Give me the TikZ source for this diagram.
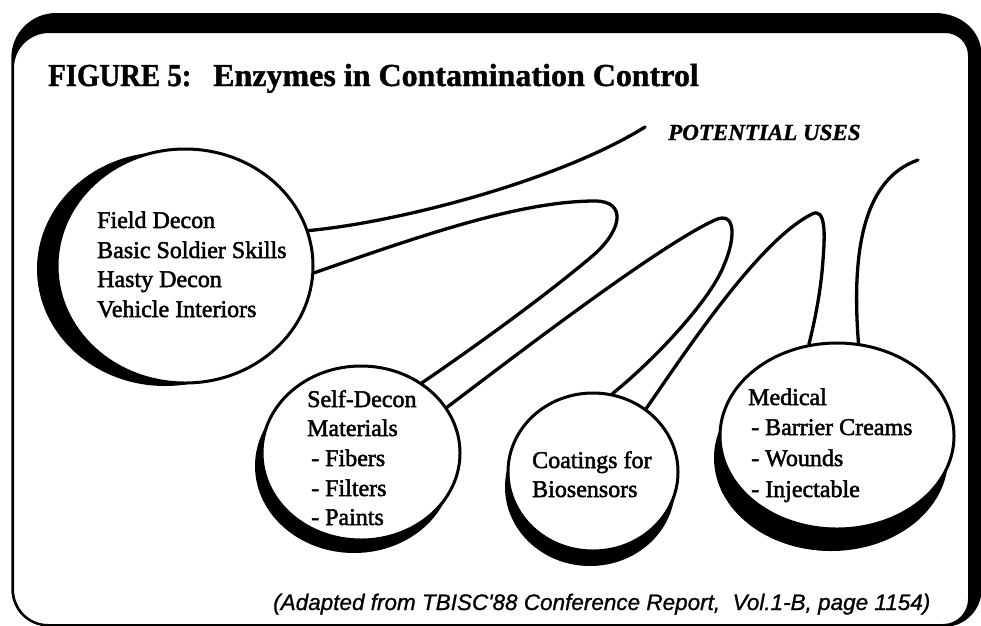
\documentclass[tikz,border=0pt]{standalone}
\usepackage{fontspec}
\setmainfont{Liberation Serif}
\newfontfamily\bodyfont[FakeBold=2]{Liberation Serif}
\newfontfamily\headfont[BoldFeatures={FakeBold=1.2},BoldItalicFeatures={FakeBold=1.2}]{Liberation Serif}
\newfontfamily\notefont[FakeBold=1]{Liberation Sans}
\usetikzlibrary{shapes.geometric,shadows}

\tikzset{
  bubble/.style={ellipse, draw, line width=3pt, fill=white, inner sep=0pt},
  string/.style={line width=3.3pt, line cap=round},
  itemtext/.style={anchor=base west, inner sep=0pt, font=\bodyfont\fontsize{24}{29}\selectfont},
  titletext/.style={anchor=base west, inner sep=0pt, font=\headfont\bfseries\fontsize{32}{38}\selectfont},
}

\begin{document}
\begin{tikzpicture}[x=1pt,y=-1pt]
\useasboundingbox (0,0) rectangle (981,625);
\clip (0,0) rectangle (981,625);
\fill[white] (0,0) rectangle (981,625);

% rounded frame: heavy top and right edges, thin left and bottom
\fill[black, even odd rule]
  (11.3,589) -- (11.3,58) .. controls (11.3,33) and (31.3,13) .. (56.3,13)
  -- (935,13) .. controls (960,13) and (981.5,30) .. (981.5,55)
  -- (981.5,590) .. controls (981.5,609.3) and (965.3,626.5) .. (946,626.5)
  -- (48.3,626.5) .. controls (27.6,626.5) and (11.3,609.7) .. (11.3,589) -- cycle
  (14,589) -- (14,68) .. controls (14,48.7) and (29.7,33) .. (49,33)
  -- (945,33) .. controls (958,33) and (968,43) .. (968,56)
  -- (968,599) .. controls (968,612.8) and (956.8,624) .. (943,624)
  -- (48.3,624) .. controls (29,624) and (14,608.3) .. (14,589) -- cycle;

% title
\node[titletext] (figno) at (48,86) {\scalebox{0.9}[1]{FIGURE 5:}};
\node[titletext] (title) at (213,86) {Enzymes in Contamination Control};
\node[anchor=base west, inner sep=0pt, font=\headfont\bfseries\itshape\fontsize{23}{28}\selectfont]
  (pu) at (668,140) {POTENTIAL USES};

% bubbles with their shadows
\node[bubble, minimum width=256pt, minimum height=234pt,
  drop shadow={shadow xshift=-20pt, shadow yshift=-3pt, opacity=1, fill=black}]
  (field) at (185,266) {};
\node[bubble, minimum width=198pt, minimum height=174pt,
  drop shadow={shadow xshift=-7pt, shadow yshift=-13pt, opacity=1, fill=black}]
  (self) at (361,453) {};
\node[bubble, minimum width=170pt, minimum height=158pt,
  drop shadow={shadow xshift=-3pt, shadow yshift=-15pt, opacity=1, fill=black}]
  (coat) at (593,472) {};
\node[bubble, minimum width=234pt, minimum height=186pt,
  drop shadow={shadow xshift=-6pt, shadow yshift=-22pt, opacity=1, fill=black}]
  (med) at (837,436) {};

% free ends of the strings
\coordinate (puend) at (645,127);
\coordinate (medend) at (918,160);

% strings joining the bubbles
\draw[string] (field.16) .. controls (400,222) and (560,180) .. (puend);
\draw[string] (field.357) .. controls (420,236) and (520,201) .. (595,201)
  .. controls (628,201) and (622,232) .. (590,258)
  .. controls (540,300) and (470,350) .. (self.49);
\draw[string] (self.28) .. controls (520,352) and (660,245) .. (715,220)
  .. controls (737,210) and (735,240) .. (724,265)
  .. controls (712,297) and (660,355) .. (coat.76);
\draw[string] (coat.50) .. controls (690,345) and (760,240) .. (812,214)
  .. controls (826,207) and (825,235) .. (823,260)
  .. controls (821,290) and (815,320) .. (med.107);
\draw[string] (med.77) .. controls (852,260) and (860,180) .. (medend);

% bubble texts
\node[itemtext] (f1) at (97,228) {Field Decon};
\node[itemtext] (f2) at (97,258) {Basic Soldier Skills};
\node[itemtext] (f3) at (97,287) {Hasty Decon};
\node[itemtext] (f4) at (97,317) {Vehicle Interiors};

\node[itemtext] (s1) at (307,407) {Self-Decon};
\node[itemtext] (s2) at (307,436) {Materials};
\node[itemtext] (s3) at (311,466) {- Fibers};
\node[itemtext] (s4) at (311,496) {- Filters};
\node[itemtext] (s5) at (311,525) {- Paints};

\node[itemtext] (c1) at (532,468) {Coatings for};
\node[itemtext] (c2) at (532,497) {Biosensors};

\node[itemtext] (m1) at (748,405) {Medical};
\node[itemtext] (m2) at (751,435) {- Barrier Creams};
\node[itemtext] (m3) at (751,466) {- Wounds};
\node[itemtext] (m4) at (751,497) {- Injectable};

% source note
\node[anchor=base west, inner sep=0pt, font=\notefont\itshape\fontsize{22.5}{27}\selectfont]
  (src) at (273,610) {(Adapted from TBISC'88 Conference Report,\ \ Vol.1-B, page 1154)};
\end{tikzpicture}
\end{document}
